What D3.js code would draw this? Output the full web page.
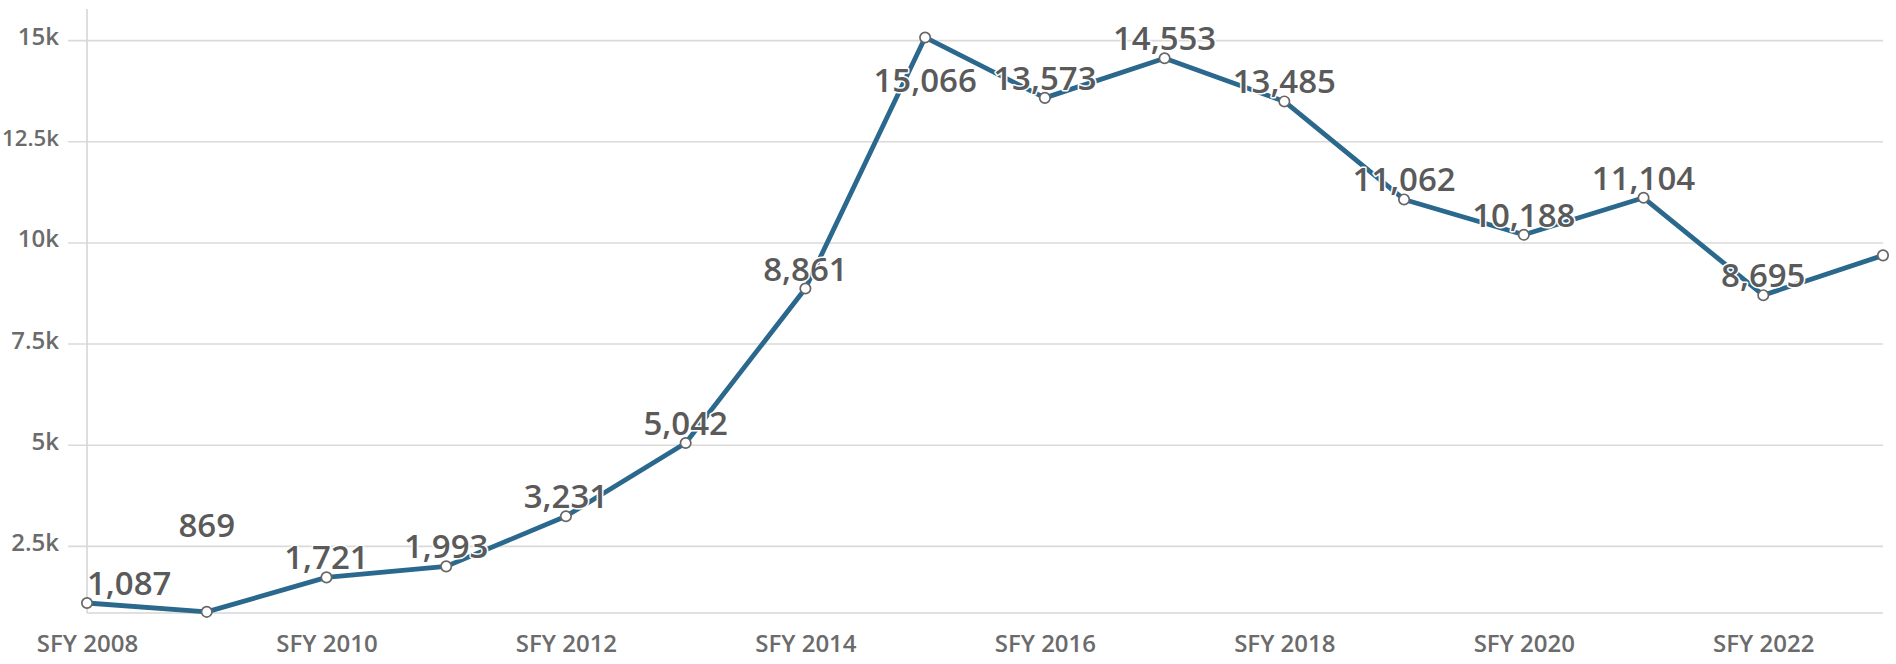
<!DOCTYPE html>
<html>
<head>
<meta charset="utf-8">
<script src="https://cdn.jsdelivr.net/npm/d3@7"></script>
<style>
  html, body { margin: 0; padding: 0; background: #fff; }
  svg { display: block; }
  text { font-family: "Open Sans", "Noto Sans", sans-serif; }
</style>
</head>
<body>
<svg id="chart" width="1896" height="664"></svg>
<script>
// Fiscal years on the x axis
const categories = [
  "SFY 2008", "SFY 2009", "SFY 2010", "SFY 2011", "SFY 2012", "SFY 2013",
  "SFY 2014", "SFY 2015", "SFY 2016", "SFY 2017", "SFY 2018", "SFY 2019",
  "SFY 2020", "SFY 2021", "SFY 2022", "SFY 2023"
];
// Yearly totals
const values = [
  1087, 869, 1721, 1993, 3231, 5042, 8861, 15066, 13573, 14553, 13485,
  11062, 10188, 11104, 8695, 9680
];
// Which points carry a value label
const labelled = [
  true, true, true, true, true, true, true, true, true, true, true,
  true, true, true, true, false
];
// Axis ticks
const yTicks = [2500, 5000, 7500, 10000, 12500, 15000];
const xTickLabels = ["SFY 2008", "SFY 2010", "SFY 2012", "SFY 2014", "SFY 2016", "SFY 2018", "SFY 2020", "SFY 2022"];

// Layout
const plot = { left: 87, right: 1883, top: 9, bottom: 613 };
const yDomain = [840, 15770];
const labelSize = 33;
const labelGap = 8;
const labelLift = { "SFY 2009": 67 };   // extra lift for crowded labels
const yLabelRight = 59;
const yLabelSize = 24;

const svg = d3.select("#chart");

const x = d3.scalePoint().domain(categories).range([plot.left, plot.right]);
const y = d3.scaleLinear().domain(yDomain).range([plot.bottom, plot.top]);

const fmtTick = v => (v / 1000) + "k";
const fmtVal = d3.format(",");

// Gridlines
const yAxis = d3.axisLeft(y)
  .tickValues(yTicks)
  .tickFormat(fmtTick)
  .tickSize(-(plot.right - plot.left) - 19)
  .tickPadding(0);

const gy = svg.append("g")
  .attr("transform", `translate(${plot.right},0)`)
  .call(yAxis);
gy.select(".domain").remove();
gy.selectAll(".tick line")
  .attr("x1", -(plot.right - plot.left) - 19)
  .attr("x2", 0)
  .attr("stroke", "#dadada")
  .attr("stroke-width", 1.6);
gy.selectAll(".tick text").remove();

// y tick labels, shrunk if needed to stay inside the left margin
svg.append("g")
  .selectAll("text").data(yTicks).join("text")
  .attr("x", yLabelRight)
  .attr("y", d => y(d) + 5)
  .attr("text-anchor", "end")
  .attr("font-size", yLabelSize)
  .attr("font-weight", 600)
  .attr("fill", "#6b6b6b")
  .text(fmtTick)
  .each(function() {
    const w = this.getComputedTextLength();
    const room = yLabelRight - 2;
    if (w > room) d3.select(this).attr("font-size", yLabelSize * room / w);
  });

// Axis lines
svg.append("line")
  .attr("x1", plot.left).attr("x2", plot.left)
  .attr("y1", plot.top).attr("y2", plot.bottom)
  .attr("stroke", "#d6d6d6").attr("stroke-width", 1.6);
svg.append("line")
  .attr("x1", plot.left).attr("x2", plot.right)
  .attr("y1", plot.bottom).attr("y2", plot.bottom)
  .attr("stroke", "#d6d6d6").attr("stroke-width", 1.6);

// x axis labels
const xAxis = d3.axisBottom(x).tickValues(xTickLabels).tickSize(0).tickPadding(0);
const gx = svg.append("g").attr("transform", `translate(0,${plot.bottom})`).call(xAxis);
gx.select(".domain").remove();
gx.selectAll(".tick text")
  .attr("y", 39)
  .attr("dy", 0)
  .attr("font-size", 24)
  .attr("font-weight", 600)
  .attr("font-family", "'Open Sans', sans-serif")
  .attr("fill", "#6b6b6b");

// Series
const pts = categories.map((c, i) => ({ c, v: values[i], lab: labelled[i] }));

svg.append("path")
  .datum(pts)
  .attr("fill", "none")
  .attr("stroke", "#2b688d")
  .attr("stroke-width", 4.8)
  .attr("stroke-linejoin", "round")
  .attr("stroke-linecap", "round")
  .attr("d", d3.line().x(d => x(d.c)).y(d => y(d.v)));

svg.append("g").selectAll("circle").data(pts).join("circle")
  .attr("cx", d => x(d.c))
  .attr("cy", d => y(d.v))
  .attr("r", 5.2)
  .attr("fill", "#fff")
  .attr("stroke", "#666")
  .attr("stroke-width", 1.7);

// Value labels
const labels = svg.append("g").selectAll("text").data(pts.filter(d => d.lab)).join("text")
  .attr("font-size", labelSize)
  .attr("font-weight", 600)
  .attr("fill", "#5a5a5a")
  .attr("stroke", "#fff")
  .attr("stroke-width", 3)
  .attr("stroke-linejoin", "round")
  .attr("paint-order", "stroke")
  .attr("text-anchor", "middle")
  .text(d => fmtVal(d.v));

labels.each(function(d) {
  const t = d3.select(this);
  const w = this.getComputedTextLength();
  const px = x(d.c), py = y(d.v);
  let cx = px;
  // keep the label inside the plot horizontally
  if (cx - w / 2 < plot.left) cx = plot.left + w / 2;
  if (cx + w / 2 > plot.right) cx = plot.right - w / 2;
  let base = py - labelGap - (labelLift[d.c] || 0);
  // flip below the point when it would run past the top
  if (base - labelSize * 0.72 < plot.top) base = py + labelGap + labelSize * 1.4;
  t.attr("x", cx).attr("y", base);
});
</script>
</body>
</html>
